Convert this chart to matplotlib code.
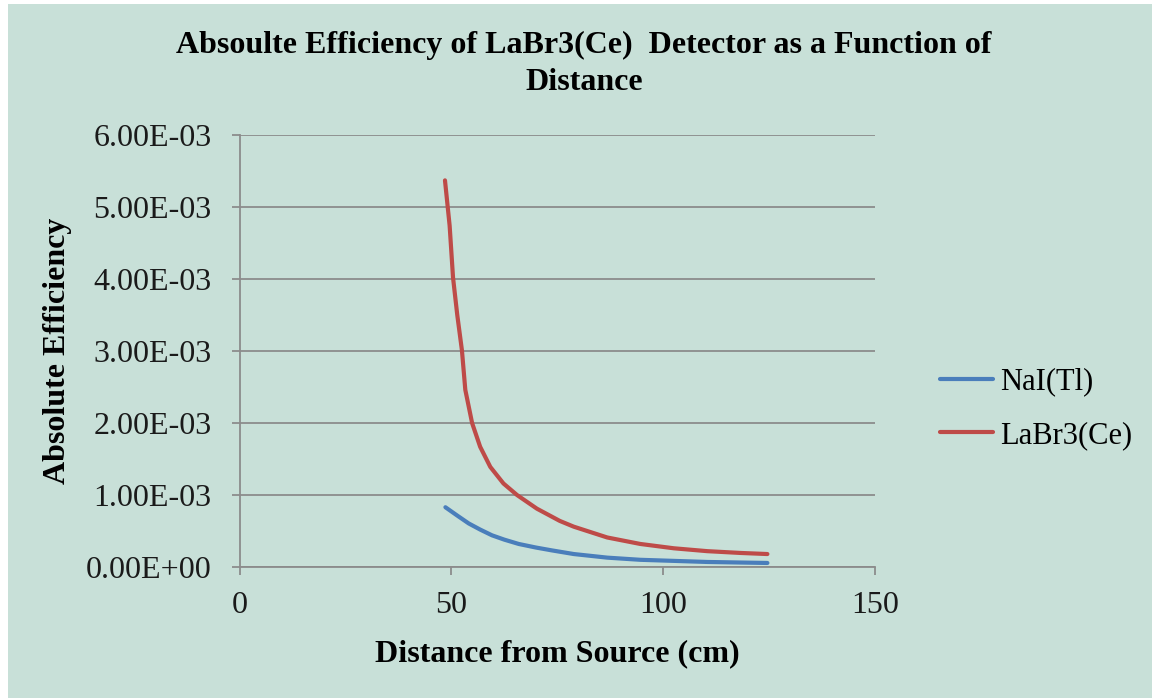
import matplotlib
matplotlib.use("Agg")
import matplotlib.pyplot as plt
from matplotlib.patches import Rectangle

# values
distance_nai = [48.6, 51.5, 54.1, 56.8, 59.6, 62.5, 65.9, 70, 73.8, 78.9, 86.8, 94.6, 102.5, 110.4, 118.3, 124.6]
eff_nai = [0.83e-3, 0.71e-3, 0.605e-3, 0.52e-3, 0.44e-3, 0.38e-3, 0.32e-3, 0.27e-3, 0.23e-3, 0.18e-3,
           0.13e-3, 0.10e-3, 0.085e-3, 0.07e-3, 0.062e-3, 0.056e-3]

distance_labr = [48.5, 49.6, 50.4, 51.4, 52.5, 53.3, 54.9, 56.8, 59.2, 62.3, 65.5, 70.2, 75.6, 78.9,
                 86.8, 94.6, 102.5, 110.4, 118.3, 124.6]
eff_labr = [5.37e-3, 4.74e-3, 4.02e-3, 3.5e-3, 3.01e-3, 2.46e-3, 2.0e-3, 1.67e-3, 1.39e-3, 1.16e-3,
            1.0e-3, 0.81e-3, 0.64e-3, 0.56e-3, 0.41e-3, 0.32e-3, 0.26e-3, 0.22e-3, 0.195e-3, 0.18e-3]

y_ticks = [0, 1e-3, 2e-3, 3e-3, 4e-3, 5e-3, 6e-3]
y_tick_labels = ["0.00E+00", "1.00E-03", "2.00E-03", "3.00E-03", "4.00E-03", "5.00E-03", "6.00E-03"]
x_ticks = [0, 50, 100, 150]

BG = "#C8E0D8"
GRID = "#8C8C8C"
SERIF = ["Liberation Serif", "DejaVu Serif"]

W, H = 1152, 698
fig = plt.figure(figsize=(W / 100, H / 100), dpi=100)
fig.patch.set_facecolor(BG)

# white margins at the top and left edge of the screenshot
fig.add_artist(Rectangle((0, 1 - 4 / H), 1, 4 / H, transform=fig.transFigure,
                         facecolor="white", edgecolor="none", zorder=5))
fig.add_artist(Rectangle((0, 0), 8 / W, 1, transform=fig.transFigure,
                         facecolor="white", edgecolor="none", zorder=5))

ax = fig.add_axes([239.5 / W, 1 - 567 / H, (875 - 239.5) / W, (567 - 135) / H])
ax.set_facecolor(BG)

ax.plot(distance_nai, eff_nai, color="#4A7EBB", lw=3.0, label="NaI(Tl)",
        solid_capstyle="round", solid_joinstyle="round")
ax.plot(distance_labr, eff_labr, color="#BE4B48", lw=3.0, label="LaBr3(Ce)",
        solid_capstyle="round", solid_joinstyle="round")

ax.set_xlim(0, 150)
ax.set_ylim(0, 6e-3)
ax.set_xticks(x_ticks)
ax.set_xticklabels([str(v) for v in x_ticks], fontsize=23, family=SERIF, color="#1a1a1a")
ax.set_yticks(y_ticks)
ax.set_yticklabels(y_tick_labels, fontsize=23, family=SERIF, color="#1a1a1a")
ax.tick_params(axis="both", direction="out", length=6, width=1.3, color=GRID)
ax.tick_params(axis="x", pad=11)
ax.tick_params(axis="y", pad=14)

ax.yaxis.grid(True, color=GRID, lw=1.3)
ax.set_axisbelow(True)
for side in ["top", "right"]:
    ax.spines[side].set_visible(False)
for side in ["left", "bottom"]:
    ax.spines[side].set_color(GRID)
    ax.spines[side].set_linewidth(1.3)

ax.set_xlabel("Distance from Source (cm)", fontsize=23, fontweight="bold", family=SERIF, labelpad=14)
ax.set_ylabel("Absolute Efficiency", fontsize=23, fontweight="bold", family=SERIF, labelpad=10)

fig.text(584 / W, 1 - 45 / H, "Absoulte Efficiency of LaBr3(Ce)  Detector as a Function of",
         ha="center", va="center", fontsize=23, fontweight="bold", family=SERIF)
fig.text(584 / W, 1 - 82 / H, "Distance",
         ha="center", va="center", fontsize=23, fontweight="bold", family=SERIF)

fig.legend(loc="upper left", bbox_to_anchor=(912 / W, 1 - 340 / H), frameon=False,
           prop={"family": SERIF, "size": 22}, handlelength=1.75, handletextpad=0.25,
           labelspacing=0.8)

fig.savefig("out.png", dpi=100, facecolor=BG)
